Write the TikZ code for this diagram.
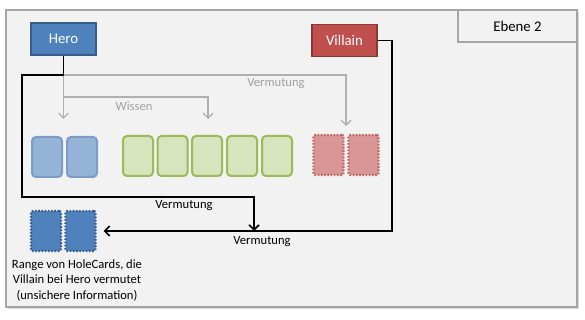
\documentclass[tikz,border=0pt]{standalone}
\usepackage{fontspec}
\setmainfont{Carlito}
\usetikzlibrary{arrows.meta}
\definecolor{bg}{HTML}{F2F2F2}
\definecolor{frame}{HTML}{A6A6A6}
\definecolor{heroF}{HTML}{4F81BD}
\definecolor{heroD}{HTML}{385D8A}
\definecolor{vilF}{HTML}{C0504D}
\definecolor{vilD}{HTML}{8C3836}
\definecolor{lbF}{HTML}{95B3D7}
\definecolor{lbD}{HTML}{7A9CC6}
\definecolor{grF}{HTML}{D7E4BD}
\definecolor{grD}{HTML}{9BBB59}
\definecolor{rdF}{HTML}{D99694}
\definecolor{rdD}{HTML}{BE6462}
\definecolor{gline}{HTML}{B0B0B0}
\definecolor{gtext}{HTML}{A0A0A0}
\tikzset{
  player/.style={rectangle, minimum width=65pt, minimum height=32pt, line width=1.3pt, text=white, font=\fontsize{14.8}{16}\selectfont, inner sep=0pt},
  card/.style={rectangle, rounded corners=4pt, minimum width=30pt, minimum height=40pt, line width=2pt, inner sep=0pt},
  lcard/.style={card, fill=lbF, draw=lbD},
  gcard/.style={card, fill=grF, draw=grD},
  dcard/.style={card, line width=2.2pt, dash pattern=on 1.6pt off 1.6pt, rounded corners=2pt},
  rcard/.style={dcard, fill=rdF, draw=rdD},
  bcard/.style={dcard, fill=heroF, draw=heroD},
  blk/.style={line width=1.8pt, black, -{Straight Barb[length=5pt,width=10pt,line width=1.6pt]}},
  gry/.style={line width=1.6pt, gline, -{Straight Barb[length=5pt,width=10pt,line width=1.4pt]}},
  lbl/.style={font=\fontsize{12.6}{14}\selectfont, inner sep=0pt},
}
\begin{document}
\begin{tikzpicture}[x=1pt,y=-1pt]
\useasboundingbox (0,0) rectangle (585,320);
\fill[white] (0,0) rectangle (585,320);
% shadow + frame
\fill[black!15] (8,12) rectangle (579,309);
\draw[frame, line width=2.5pt, fill=bg] (6,10) rectangle (577,307);
\node[draw=frame, line width=2.2pt, fill=bg, minimum width=119pt, minimum height=32pt, inner sep=0pt, font=\fontsize{14.8}{16}\selectfont] (ebene) at (517.5,26) {Ebene 2};

% players
\node[player, fill=heroF, draw=heroD] (hero) at (63.5,39) {Hero};
\node[player, fill=vilF, draw=vilD] (villain) at (344.5,40.5) {Villain};

% cards
\node[lcard] (l1) at (47,157) {};
\node[lcard] (l2) at (82,157) {};
\node[gcard] (g1) at (138,156) {};
\node[gcard] (g2) at (172.5,156) {};
\node[gcard] (g3) at (207,156) {};
\node[gcard] (g4) at (242,156) {};
\node[gcard] (g5) at (277,156) {};
\node[rcard] (r1) at (328.5,155) {};
\node[rcard] (r2) at (363.5,155) {};
\node[bcard] (b1) at (46,231) {};
\node[bcard] (b2) at (80.5,231) {};

% coordinates
\coordinate (j) at (63.5,75);
\coordinate (w) at (63.5,97);
\coordinate (meet) at (254,231);

% gray arrows
\draw[gry] (j) -| (346,126);
\draw[gry] (j) -- (63.5,119);
\draw[gry] (w) -| (208,119);

% black arrows
\draw[blk, -] (hero.south) -- (j);
\draw[blk] (j) -| (22,197) -| (meet);
\draw[blk, shorten >=7pt] (villain.east) -| (392,231) -- (b2.east);

% labels
\node[lbl, text=gtext] (lv1) at (276,84) {Vermutung};
\node[lbl, text=gtext] (lw) at (134,106) {Wissen};
\node[lbl] (lv2) at (184,206) {Vermutung};
\node[lbl] (lv3) at (262,242) {Vermutung};
\node[lbl, align=center, font=\fontsize{12.6}{15.5}\selectfont] (range) at (77,280) {Range von HoleCards, die\\Villain bei Hero vermutet\\(unsichere Information)};
\end{tikzpicture}
\end{document}
